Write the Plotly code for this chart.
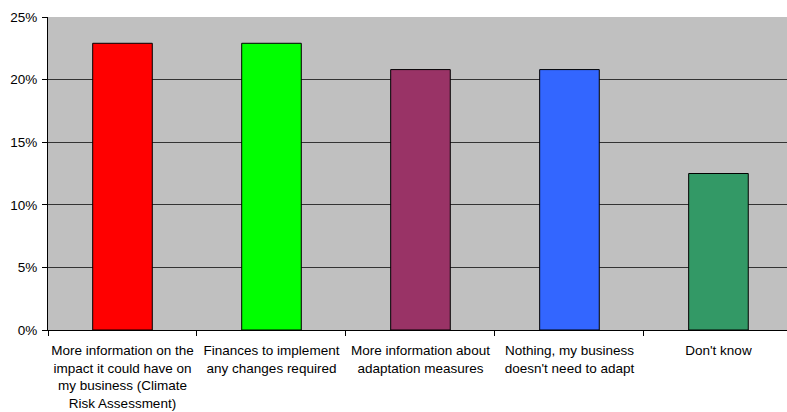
import plotly.graph_objects as go

categories = [
    "More information on the<br>impact it could have on<br>my business (Climate<br>Risk Assessment)",
    "Finances to implement<br>any changes required",
    "More information about<br>adaptation measures",
    "Nothing, my business<br>doesn't need to adapt",
    "Don't know",
]
shares = [0.229, 0.229, 0.208, 0.208, 0.125]
bar_colors = ["#FF0000", "#00FF00", "#993366", "#3366FF", "#339966"]
y_ticks = [0, 0.05, 0.10, 0.15, 0.20, 0.25]

fig = go.Figure(
    go.Bar(
        x=categories,
        y=shares,
        width=0.4,
        marker=dict(color=bar_colors, line=dict(color="#000000", width=1)),
        hoverinfo="skip",
    )
)

fig.update_layout(
    width=787,
    height=412,
    margin=dict(l=48, r=0, t=17, b=82),
    paper_bgcolor="#FFFFFF",
    plot_bgcolor="#C0C0C0",
    showlegend=False,
    font=dict(family="Liberation Sans, Arial, sans-serif", size=13.5, color="#000000"),
)

fig.update_xaxes(
    type="category",
    range=[-0.5, 4.46],
    tickson="boundaries",
    ticks="outside",
    ticklen=5,
    tickcolor="#000000",
    showgrid=False,
    showline=True,
    linecolor="#000000",
    linewidth=1,
    tickangle=0,
    ticklabelstandoff=8,
    tickfont=dict(size=13.5),
)

fig.update_yaxes(
    range=[0, 0.25],
    tickvals=y_ticks,
    tickformat=".0%",
    ticks="outside",
    ticklen=5,
    tickcolor="#000000",
    showgrid=True,
    gridcolor="#333333",
    gridwidth=1.2,
    showline=True,
    linecolor="#000000",
    linewidth=1,
    zeroline=False,
    ticklabelstandoff=2,
    tickfont=dict(size=13.5),
)

fig.write_html("out.html")
